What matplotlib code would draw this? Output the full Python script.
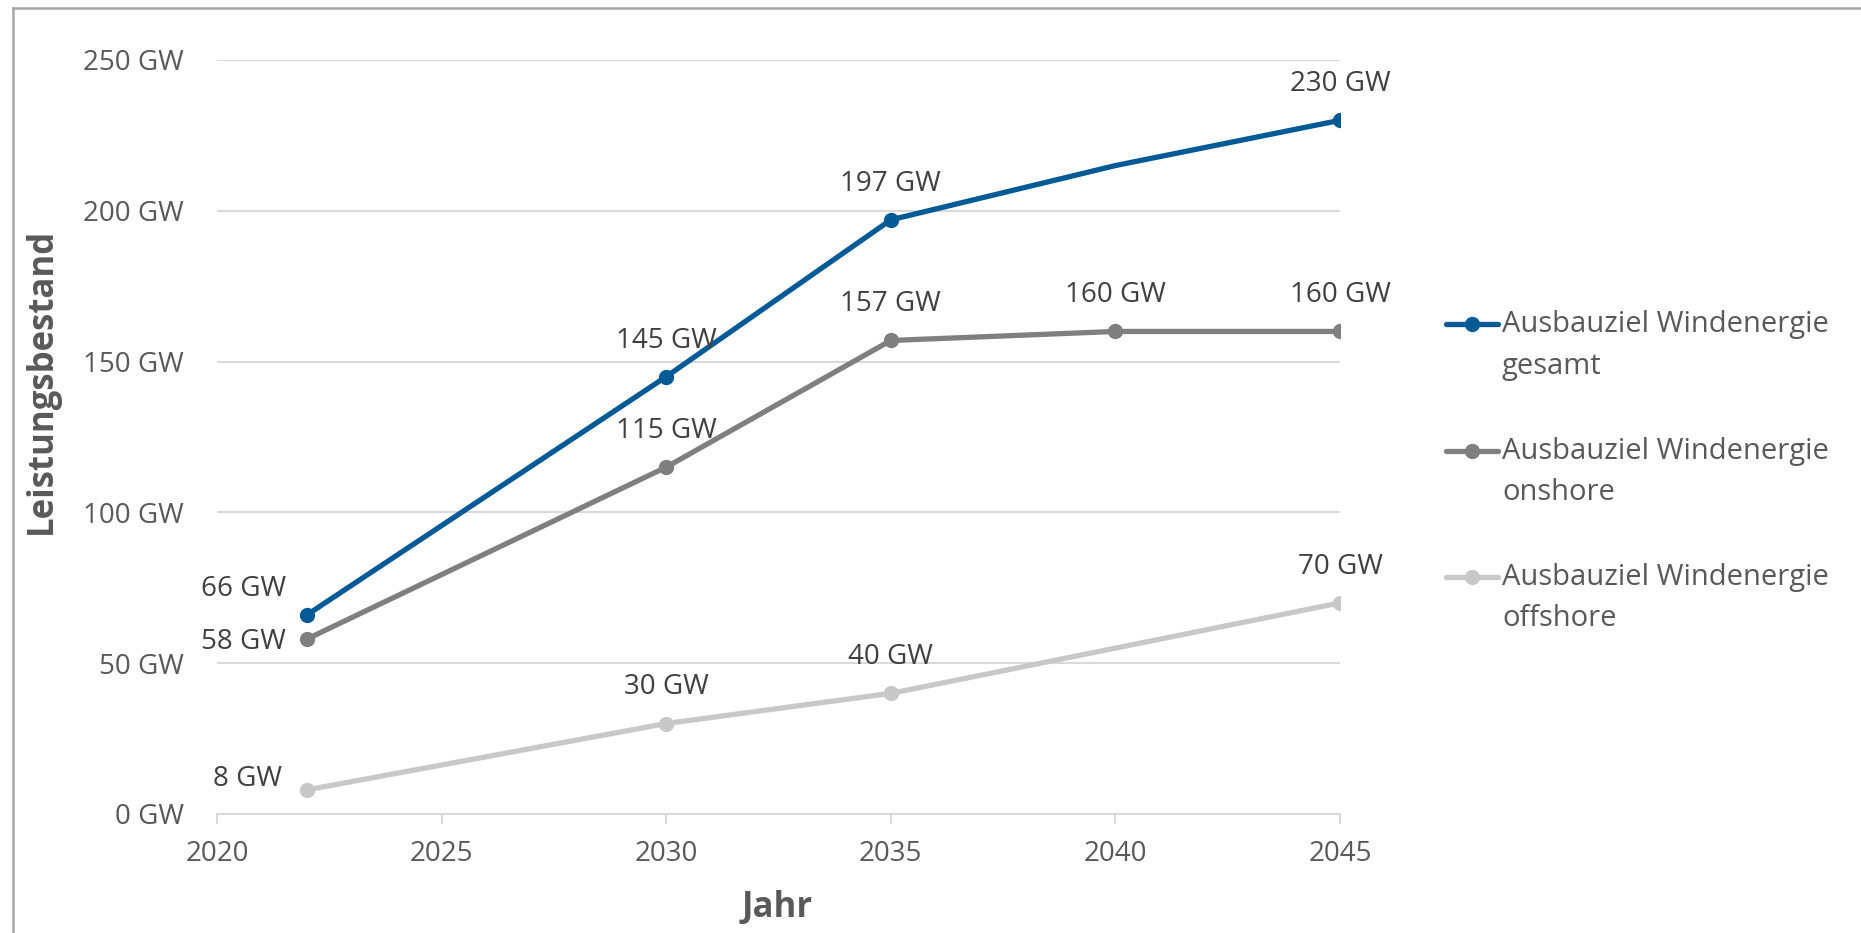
import matplotlib
matplotlib.use("Agg")
import matplotlib.pyplot as plt
from matplotlib.lines import Line2D

plt.rcParams['font.family'] = ['Open Sans', 'DejaVu Sans']

# ---- data ----
years = [2022, 2030, 2035, 2040, 2045]
gesamt = [66, 145, 197, 215, 230]
onshore = [58, 115, 157, 160, 160]
offshore = [8, 30, 40, 55, 70]
legend_line1 = ["Ausbauziel Windenergie", "Ausbauziel Windenergie", "Ausbauziel Windenergie"]
legend_line2 = ["gesamt", "onshore", "offshore"]
# indices of points that carry a marker + data label
labelled_gesamt = [0, 1, 2, 4]
labelled_onshore = [0, 1, 2, 3, 4]
labelled_offshore = [0, 1, 2, 4]
x_ticks = [2020, 2025, 2030, 2035, 2040, 2045]
y_ticks = [0, 50, 100, 150, 200, 250]
x_label = "Jahr"
y_label = "Leistungsbestand"

# ---- style ----
colors = ["#005a96", "#7f7f7f", "#c8c8c8"]
tick_color = "#595959"
label_color = "#404040"
grid_color = "#d9d9d9"
FS = 20
FS_LEG = 21

W, H = 1861, 933
fig = plt.figure(figsize=(W / 100, H / 100), dpi=100)
fig.patch.set_facecolor("white")
ax = fig.add_axes([217 / W, 1 - 814 / H, (1340 - 217) / W, (814 - 60) / H])

all_series = [gesamt, onshore, offshore]
all_labelled = [labelled_gesamt, labelled_onshore, labelled_offshore]
# label offsets (points) for first point of each series (placed left)
first_offsets = [(-15, 19), (-15, -2), (-18, 8)]

for vals, lab, col, fo in zip(all_series, all_labelled, colors, first_offsets):
    ax.plot(years, vals, color=col, lw=3.8, marker="o", markersize=10,
            markevery=lab, solid_capstyle="round", zorder=3)
    for i in lab:
        txt = f"{vals[i]} GW"
        if i == 0:
            ax.annotate(txt, (years[i], vals[i]), xytext=fo, textcoords="offset points",
                        ha="right", va="center", fontsize=FS, color=label_color)
        else:
            ax.annotate(txt, (years[i], vals[i]), xytext=(0, 26), textcoords="offset points",
                        ha="center", va="center", fontsize=FS, color=label_color)

ax.set_xlim(2020, 2045)
ax.set_ylim(0, 250)
ax.set_xticks(x_ticks)
ax.set_yticks(y_ticks)
ax.set_yticklabels([f"{v} GW" for v in y_ticks])
ax.grid(axis="y", color=grid_color, lw=1.5, zorder=0)
ax.set_axisbelow(True)
for s in ["top", "right", "left"]:
    ax.spines[s].set_visible(False)
ax.spines["bottom"].set_color(grid_color)
ax.spines["bottom"].set_linewidth(1.5)
ax.tick_params(axis="x", length=7, width=1.5, color=grid_color, labelsize=FS,
               labelcolor=tick_color, pad=12)
ax.tick_params(axis="y", length=0, labelsize=FS, labelcolor=tick_color, pad=24)

ax.set_xlabel(x_label, fontsize=25, fontweight="bold", color=tick_color,
              va="center", ha="center")
ax.set_ylabel(y_label, fontsize=25, fontweight="bold", color=tick_color,
              va="center", ha="center", rotation=90)
ax.xaxis.set_label_coords((777 - 217) / 1123, (814 - 908) / 754)
ax.yaxis.set_label_coords((42 - 217) / 1123, (814 - 381) / 754)

# legend (manual, handle aligned with first text line)
leg_y = [324, 451, 577]
line_gap = 42
for l1, l2, col, yy in zip(legend_line1, legend_line2, colors, leg_y):
    yf = 1 - yy / H
    fig.add_artist(Line2D([1446 / W, 1498 / W], [yf, yf], color=col, lw=3.8,
                          solid_capstyle="round"))
    fig.add_artist(Line2D([1472 / W], [yf], color=col, marker="o", markersize=10, lw=0))
    fig.text(1502 / W, yf, l1, fontsize=FS_LEG, color=tick_color, ha="left", va="center")
    fig.text(1502 / W, 1 - (yy + line_gap) / H, l2, fontsize=FS_LEG, color=tick_color,
             ha="left", va="center")

# outer frame (left and top edge only visible)
frame_col = "#a6a6a6"
fig.add_artist(Line2D([13 / W, 13 / W], [0, 1 - 8 / H], color=frame_col, lw=1.8))
fig.add_artist(Line2D([13 / W, 1], [1 - 8 / H, 1 - 8 / H], color=frame_col, lw=1.8))

fig.savefig("out.png", dpi=100, facecolor="white")
